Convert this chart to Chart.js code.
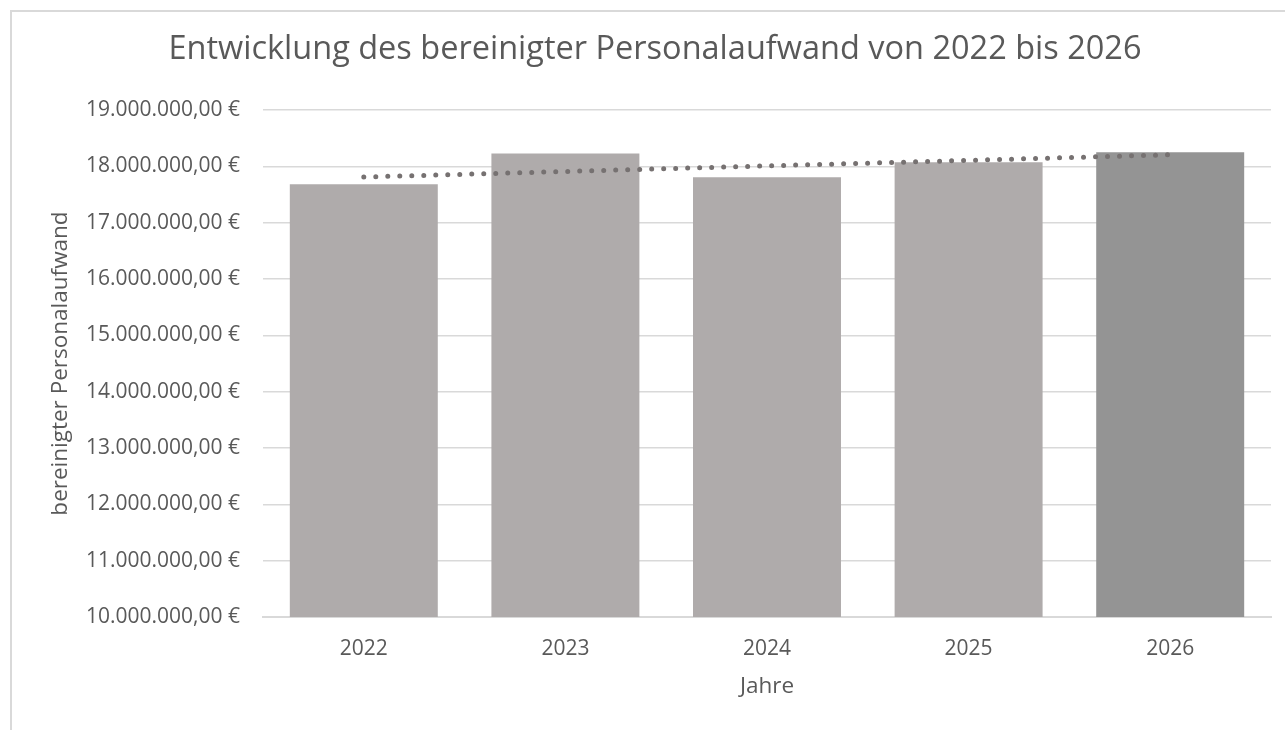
<!DOCTYPE html>
<html>
<head>
<meta charset="utf-8">
<script src="https://cdn.jsdelivr.net/npm/chart.js@4.4.1/dist/chart.umd.min.js"></script>
<style>
  html, body { margin: 0; padding: 0; background: #fff; overflow: hidden; }
  #frame { position: absolute; left: 10px; top: 10px; width: 1300px; height: 760px; border: 2px solid #d9d9d9; box-sizing: border-box; }
  #wrap { position: absolute; left: 0; top: 0; width: 1285px; height: 730px; }
</style>
</head>
<body>
<div id="frame"></div>
<div id="wrap"><canvas id="c" width="1285" height="730"></canvas></div>
<script>
const categories = ['2022', '2023', '2024', '2025', '2026'];
const values = [17680000, 18230000, 17805000, 18071000, 18249000];
const trendValues = [17810000, null, null, null, 18205000];
const barColors = ['#AFABAB', '#AFABAB', '#AFABAB', '#AFABAB', '#949494'];
const titleText = 'Entwicklung des bereinigter Personalaufwand von 2022 bis 2026';
const yTitle = 'bereinigter Personalaufwand';
const xTitle = 'Jahre';
const yMin = 10000000, yMax = 19000000, yStep = 1000000;

function fmtEuro(v) {
  const s = Math.round(v).toString();
  let out = '';
  for (let i = 0; i < s.length; i++) {
    if (i > 0 && (s.length - i) % 3 === 0) out += '.';
    out += s[i];
  }
  return out + ',00 €';
}

const FONT = '"Open Sans", "Noto Sans", sans-serif';
const TXT = '#595959';

new Chart(document.getElementById('c'), {
  data: {
    labels: categories,
    datasets: [
      {
        type: 'line',
        data: trendValues,
        spanGaps: true,
        borderColor: '#767171',
        borderWidth: 5,
        borderDash: [0, 12],
        borderCapStyle: 'round',
        pointRadius: 0,
        fill: false,
        order: 0
      },
      {
        type: 'bar',
        data: values,
        backgroundColor: barColors,
        borderWidth: 0,
        categoryPercentage: 1,
        barPercentage: 0.734,
        order: 1
      }
    ]
  },
  options: {
    responsive: false,
    animation: false,
    layout: { padding: { left: 39, right: 14, top: 0, bottom: 0 } },
    plugins: {
      legend: { display: false },
      tooltip: { enabled: false },
      title: {
        display: true,
        text: titleText,
        color: TXT,
        font: { family: FONT, size: 32.5, weight: 'normal', lineHeight: 1.2 },
        padding: { top: 30.5, bottom: 40.5 }
      }
    },
    scales: {
      x: {
        grid: { display: false, drawTicks: false },
        border: { display: true, color: '#d9d9d9', width: 2 },
        ticks: { color: TXT, font: { family: FONT, size: 21 }, padding: 19 },
        title: { display: true, text: xTitle, color: TXT, font: { family: FONT, size: 22.5, lineHeight: 1.2 }, padding: { top: 0, bottom: 29.5 } },
        afterFit: s => { s.height = 113; }
      },
      y: {
        min: yMin, max: yMax,
        grid: { color: '#d9d9d9', lineWidth: 1.5, drawTicks: false },
        border: { display: false },
        ticks: { stepSize: yStep, color: TXT, font: { family: FONT, size: 21 }, padding: 23, callback: v => fmtEuro(v) },
        title: { display: true, text: yTitle, color: TXT, font: { family: FONT, size: 22.5, lineHeight: 1.2 }, padding: { top: 8.5, bottom: 0 } },
        afterFit: s => { s.width = 224; }
      }
    }
  }
});
</script>
</body>
</html>
